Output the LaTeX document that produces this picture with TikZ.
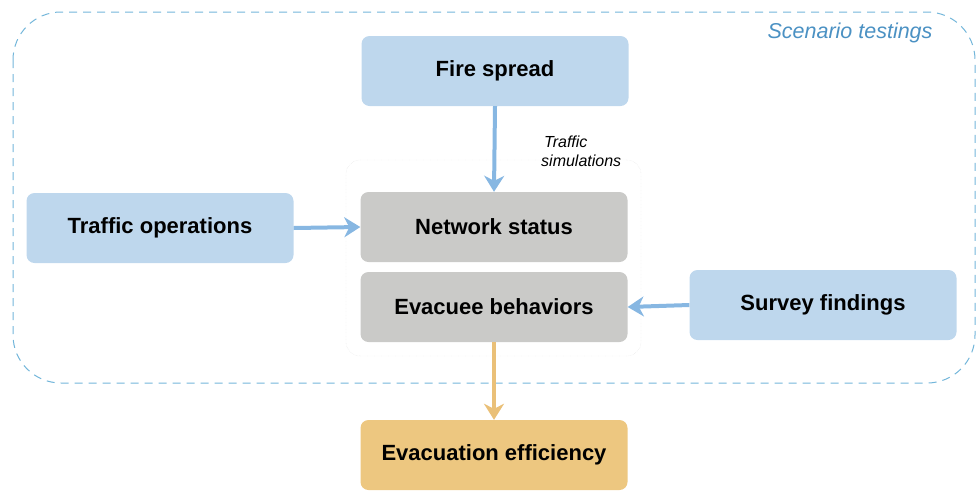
\documentclass[tikz,border=0pt]{standalone}
\usepackage{fontspec}
\setmainfont{Liberation Sans}
\usepackage{tikz}
\usetikzlibrary{arrows.meta}
\definecolor{boxblue}{RGB}{190,215,237}
\definecolor{boxgray}{RGB}{202,202,200}
\definecolor{boxorange}{RGB}{237,199,128}
\definecolor{arrblue}{RGB}{135,183,226}
\definecolor{arrorange}{RGB}{234,192,120}
\definecolor{dashblue}{RGB}{115,182,218}
\definecolor{txtblue}{RGB}{75,145,195}
\begin{document}
\begin{tikzpicture}[x=1pt,y=-1pt,
  box/.style={rounded corners=8pt,minimum width=267pt,minimum height=70pt,inner sep=0pt,
    font=\fontsize{22}{26}\selectfont\bfseries},
  bluebox/.style={box,fill=boxblue},
  graybox/.style={box,fill=boxgray},
  orangebox/.style={box,fill=boxorange},
  flow/.style={line width=4pt,draw=arrblue,-{Stealth[length=16pt,width=20pt,inset=5pt]}},
  outflow/.style={flow,draw=arrorange}]
\useasboundingbox (0,0) rectangle (977,491);
%scenario frame
\draw[dashblue,line width=1pt,dash pattern=on 8pt off 6pt,rounded corners=48pt](13,12) rectangle (975,383);
\node[font=\fontsize{21.5}{26}\selectfont\itshape,text=txtblue,anchor=east](scen) at (936,33){Scenario testings};
%faint frame round the model
\draw[gray!25,densely dotted,rounded corners=14pt](346,160) rectangle (641,356);
%boxes
\node[bluebox](fire) at (495,71){Fire spread};
\node[bluebox](ops) at (160,228){Traffic operations};
\node[graybox](net) at (494,227){Network status};
\node[graybox](evac) at (494,307){Evacuee behaviors};
\node[bluebox](survey) at (823,305){Survey findings};
\node[orangebox](eff) at (494,455){Evacuation efficiency};
%arrows
\draw[flow](fire.south)--(net.north);
\draw[flow](ops.east)--(net.west);
\draw[flow](survey.west)--(evac.east);
\draw[outflow](evac.south)--(eff.north);
%labels
\node[font=\fontsize{16}{19}\selectfont\itshape,align=left,anchor=west,inner sep=0pt](sim) at (541,151){\hspace*{3pt}Traffic\\simulations};
\end{tikzpicture}
\end{document}
